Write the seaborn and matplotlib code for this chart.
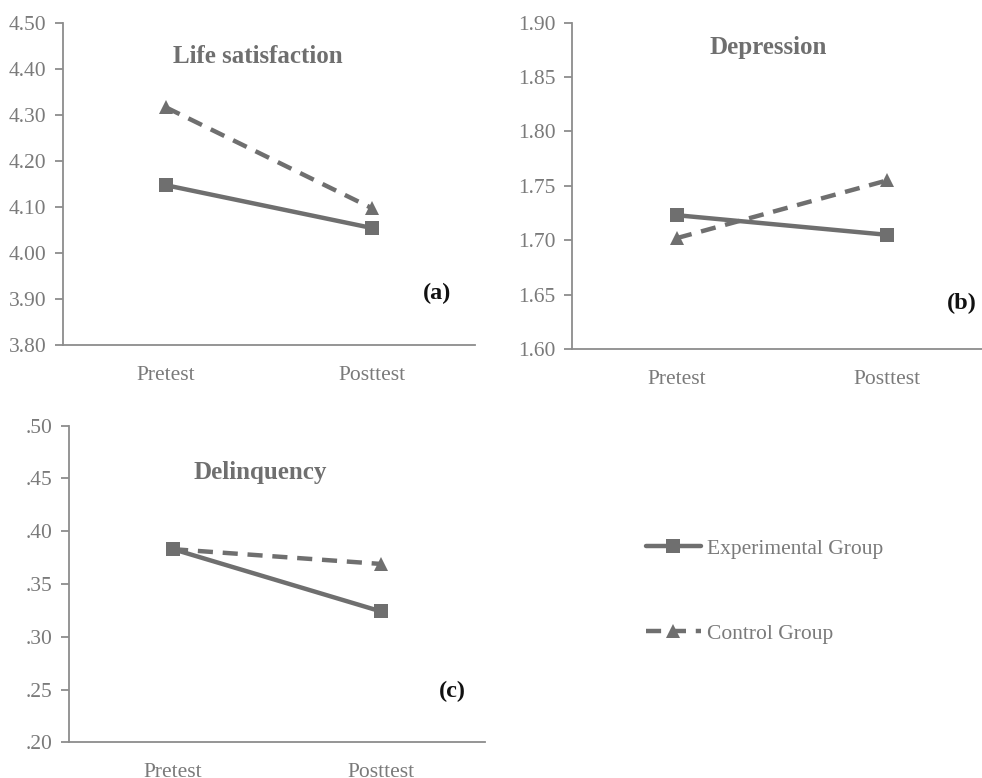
import matplotlib
matplotlib.use("Agg")
import matplotlib.pyplot as plt
import seaborn as sns
import pandas as pd
from matplotlib.lines import Line2D

sns.set_theme(style="white")
plt.rcParams["font.family"] = ["Liberation Serif", "DejaVu Serif"]

# Data
phases = ["Pretest", "Posttest"]
groups = ["Experimental Group", "Control Group"]

life_exp = [4.147, 4.054]
life_ctl = [4.316, 4.097]
dep_exp = [1.723, 1.705]
dep_ctl = [1.702, 1.755]
del_exp = [0.383, 0.324]
del_ctl = [0.383, 0.369]

life_ticks = [3.80, 3.90, 4.00, 4.10, 4.20, 4.30, 4.40, 4.50]
dep_ticks = [1.60, 1.65, 1.70, 1.75, 1.80, 1.85, 1.90]
del_ticks = [0.20, 0.25, 0.30, 0.35, 0.40, 0.45, 0.50]
del_labels = [".20", ".25", ".30", ".35", ".40", ".45", ".50"]

LINE = "#6f6f6f"
TEXT = "#7a7a7a"
SPINE = "#8c8c8c"


def long_frame(exp, ctl):
    return pd.DataFrame({
        "phase": phases * 2,
        "value": list(exp) + list(ctl),
        "group": [groups[0]] * 2 + [groups[1]] * 2,
    })


fig = plt.figure(figsize=(9.82, 7.78), dpi=100)
ax_a = fig.add_axes([0.0642, 0.5566, 0.4195, 0.4142])
ax_b = fig.add_axes([0.5825, 0.5514, 0.4277, 0.4194])
ax_c = fig.add_axes([0.0703, 0.0459, 0.4236, 0.4069])

panels = [
    (ax_a, life_exp, life_ctl, life_ticks, [f"{t:.2f}" for t in life_ticks],
     "Life satisfaction", (0.473, 0.895), "(a)", (0.908, 0.161)),
    (ax_b, dep_exp, dep_ctl, dep_ticks, [f"{t:.2f}" for t in dep_ticks],
     "Depression", (0.467, 0.923), "(b)", (0.929, 0.141)),
    (ax_c, del_exp, del_ctl, del_ticks, del_labels,
     "Delinquency", (0.459, 0.851), "(c)", (0.921, 0.162)),
]

DASH = (3.4, 2.2)

for ax, exp, ctl, ticks, labels, title, tpos, tag, gpos in panels:
    df = long_frame(exp, ctl)
    sns.lineplot(
        data=df, x="phase", y="value", hue="group", style="group",
        hue_order=groups, style_order=groups,
        palette=[LINE, LINE], markers=["s", "^"],
        dashes=[(1, 0), DASH], linewidth=3.2, markersize=10,
        markeredgewidth=0, legend=False, ax=ax, zorder=3,
    )
    ax.set_xlim(-0.5, 1.5)
    ax.set_ylim(ticks[0], ticks[-1])
    ax.set_yticks(ticks)
    ax.set_yticklabels(labels)
    ax.set_xlabel("")
    ax.set_ylabel("")
    for side in ("top", "right"):
        ax.spines[side].set_visible(False)
    for side in ("left", "bottom"):
        ax.spines[side].set_color(SPINE)
        ax.spines[side].set_linewidth(1.3)
    ax.tick_params(axis="y", which="major", left=True, length=6, width=1.3,
                   color=SPINE, labelsize=15.5, labelcolor=TEXT, pad=6)
    ax.tick_params(axis="x", which="major", bottom=False, labelsize=15.5,
                   labelcolor=TEXT, pad=9)
    ax.text(tpos[0], tpos[1], title, transform=ax.transAxes, ha="center",
            va="center", fontsize=18, fontweight="bold", color=LINE)
    ax.text(gpos[0], gpos[1], tag, transform=ax.transAxes, ha="center",
            va="center", fontsize=17.5, fontweight="bold", color="#111111")

handles = [
    Line2D([], [], color=LINE, linewidth=3.2, linestyle="-", marker="s",
           markersize=10, markeredgewidth=0),
    Line2D([], [], color=LINE, linewidth=3.2, linestyle=(0, DASH),
           marker="^", markersize=10, markeredgewidth=0),
]
leg = fig.legend(handles, groups, loc="center left",
                 bbox_to_anchor=(0.638, 0.240), frameon=False, fontsize=15.5,
                 handlelength=2.55, handletextpad=0.3, labelspacing=3.0,
                 labelcolor=TEXT)

fig.savefig("out.png", dpi=100)
